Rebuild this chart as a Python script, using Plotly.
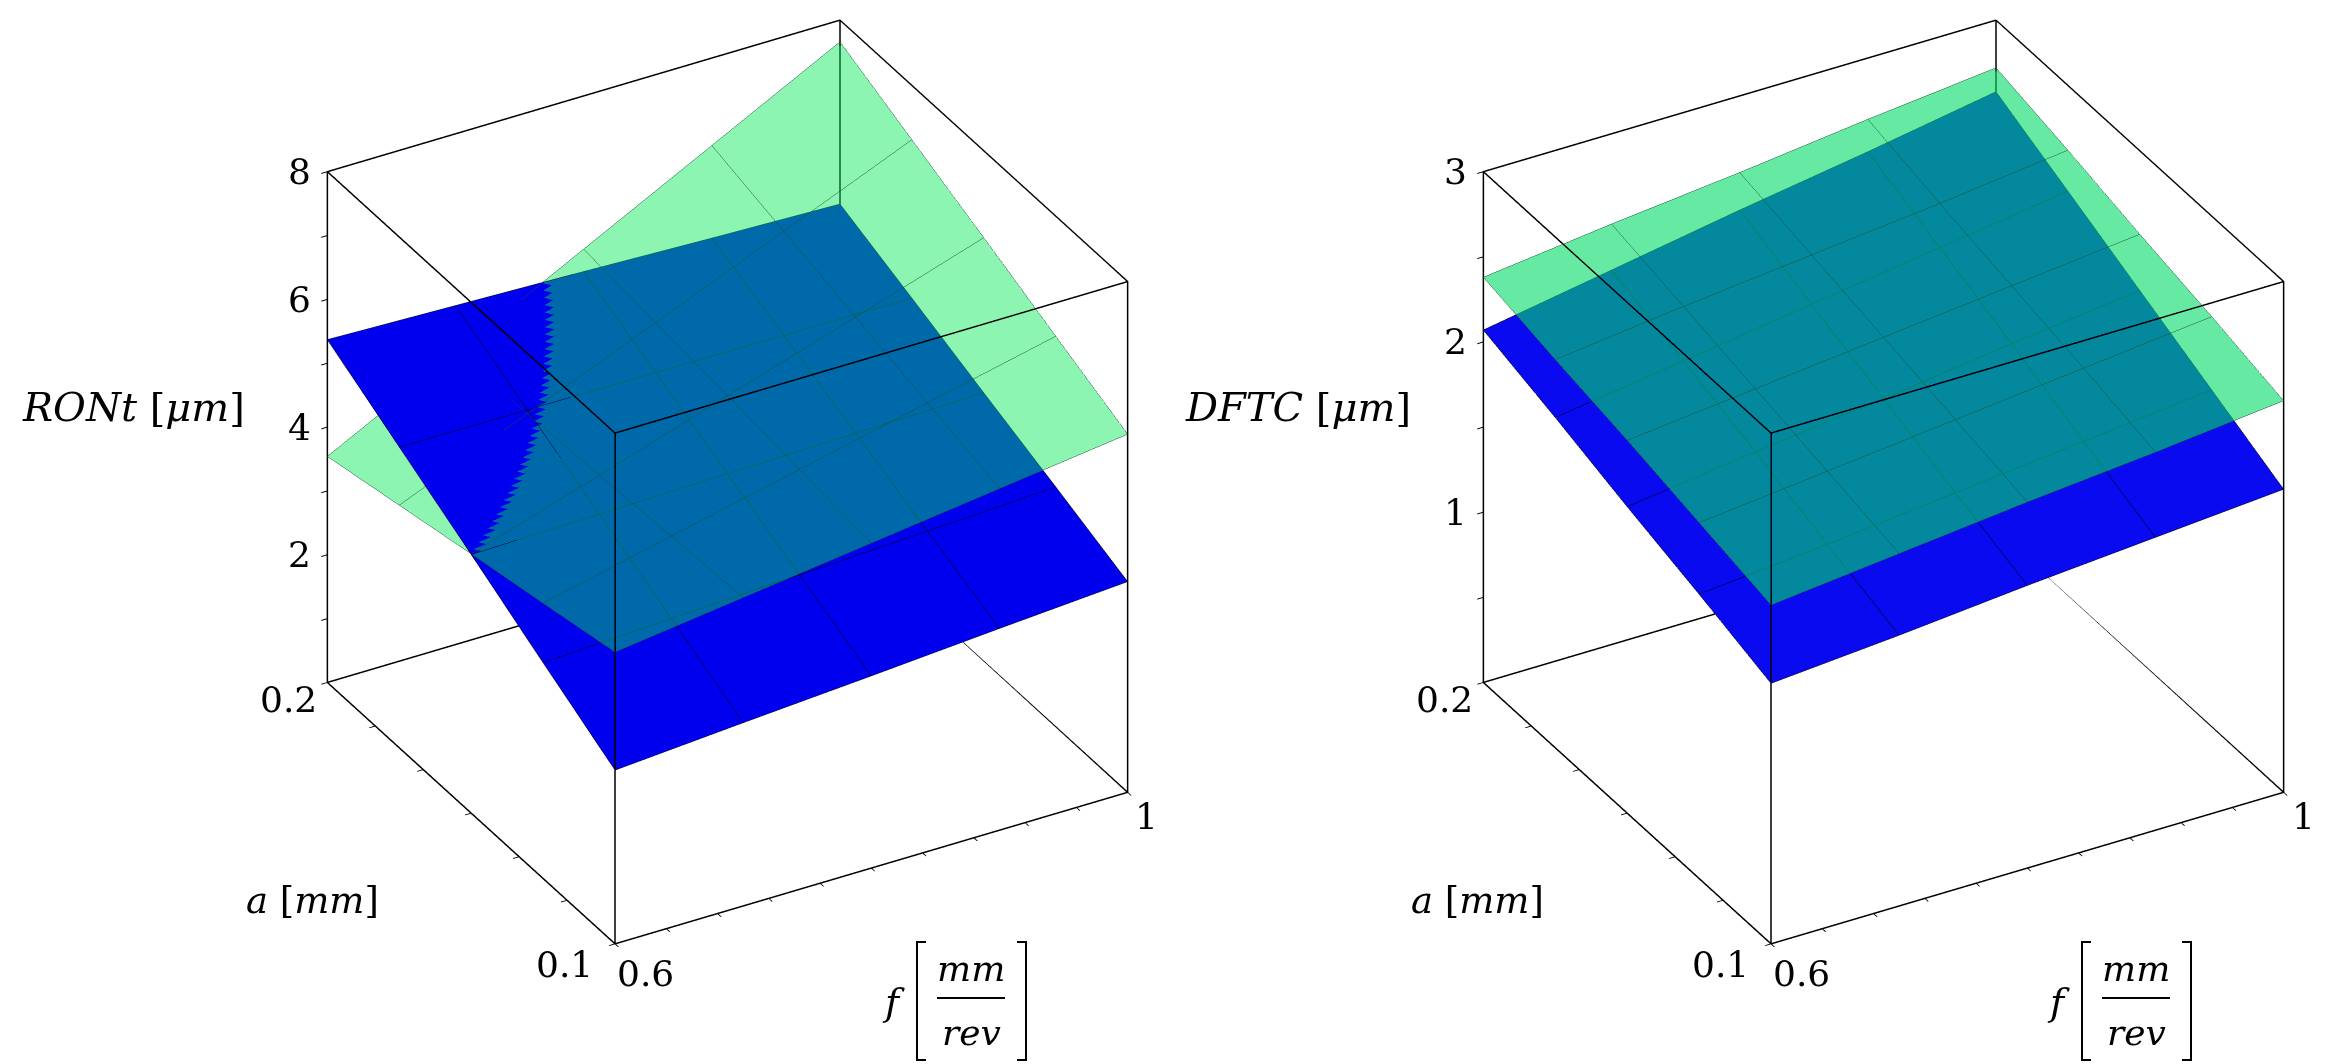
import plotly.graph_objects as go

# grid of the two response surfaces
f_vals = [0.6, 0.7, 0.8, 0.9, 1.0]
a_vals = [0.1, 0.125, 0.15, 0.175, 0.2]

# RONt [um], rows follow a_vals, columns follow f_vals
ront_blue = [
    [2.72, 2.87, 3.01, 3.16, 3.30],
    [3.38, 3.48, 3.57, 3.66, 3.76],
    [4.05, 4.09, 4.13, 4.17, 4.21],
    [4.71, 4.70, 4.69, 4.68, 4.67],
    [5.37, 5.31, 5.25, 5.18, 5.12],
]
ront_green = [
    [4.57, 4.83, 5.09, 5.35, 5.61],
    [4.31, 4.77, 5.22, 5.67, 6.12],
    [4.06, 4.70, 5.35, 5.99, 6.64],
    [3.80, 4.64, 5.47, 6.31, 7.15],
    [3.54, 4.57, 5.60, 6.63, 7.66],
]

# DFTC [um]
dftc_blue = [
    [1.53, 1.59, 1.66, 1.72, 1.78],
    [1.67, 1.74, 1.82, 1.90, 1.98],
    [1.80, 1.90, 1.99, 2.09, 2.18],
    [1.94, 2.05, 2.16, 2.27, 2.38],
    [2.07, 2.20, 2.33, 2.45, 2.58],
]
dftc_green = [
    [1.99, 2.07, 2.15, 2.22, 2.30],
    [2.09, 2.17, 2.25, 2.33, 2.41],
    [2.19, 2.27, 2.35, 2.43, 2.51],
    [2.28, 2.37, 2.45, 2.53, 2.62],
    [2.38, 2.47, 2.55, 2.64, 2.72],
]

f_range = [0.6, 1.0]
a_range = [0.1, 0.2]
ront_range = [0, 8]
dftc_range = [0, 3]

f_ticks = [0.6, 0.64, 0.68, 0.72, 0.76, 0.8, 0.84, 0.88, 0.92, 0.96, 1.0]
a_ticks = [0.1, 0.11667, 0.13333, 0.15, 0.16667, 0.18333, 0.2]
ront_ticks = [1, 2, 3, 4, 5, 6, 7, 8]
ront_labels = [2, 4, 6, 8]
dftc_ticks = [0.5, 1, 1.5, 2, 2.5, 3]
dftc_labels = [1, 2, 3]

SERIF = "DejaVu Serif"
TICK_SIZE = 36
flat = dict(ambient=1, diffuse=0, specular=0, roughness=1, fresnel=0)


def box_edges(xr, yr, zr):
    xs, ys, zs = [], [], []
    for y in yr:
        for z in zr:
            xs += [xr[0], xr[1], None]; ys += [y, y, None]; zs += [z, z, None]
    for x in xr:
        for z in zr:
            xs += [x, x, None]; ys += [yr[0], yr[1], None]; zs += [z, z, None]
    for x in xr:
        for y in yr:
            xs += [x, x, None]; ys += [y, y, None]; zs += [zr[0], zr[1], None]
    return xs, ys, zs


def surface(z, color, opacity, line_color, scene):
    return go.Surface(
        x=f_vals, y=a_vals, z=z,
        colorscale=[[0, color], [1, color]], showscale=False,
        opacity=opacity, lighting=flat, hoverinfo="skip",
        contours=dict(
            x=dict(show=True, start=0.6, end=1.0, size=0.1, color=line_color, width=2, highlight=False),
            y=dict(show=True, start=0.1, end=0.2, size=0.025, color=line_color, width=2, highlight=False),
            z=dict(highlight=False),
        ),
        scene=scene,
    )


fig = go.Figure()

fig.add_trace(surface(ront_blue, "#0000ee", 1.0, "#000010", "scene"))
fig.add_trace(surface(ront_green, "#00e954", 0.45, "#1a5230", "scene"))
bx, by, bz = box_edges(f_range, a_range, ront_range)
fig.add_trace(go.Scatter3d(x=bx, y=by, z=bz, mode="lines", line=dict(color="black", width=3),
                           hoverinfo="skip", showlegend=False, scene="scene"))

fig.add_trace(surface(dftc_blue, "#0a0af0", 1.0, "#000010", "scene2"))
fig.add_trace(surface(dftc_green, "#00dc66", 0.6, "#1a5230", "scene2"))
bx, by, bz = box_edges(f_range, a_range, dftc_range)
fig.add_trace(go.Scatter3d(x=bx, y=by, z=bz, mode="lines", line=dict(color="black", width=3),
                           hoverinfo="skip", showlegend=False, scene="scene2"))


def axis(rng, vals):
    return dict(
        range=rng, autorange=False, tickvals=vals, showticklabels=False,
        ticks="outside", ticklen=7, tickwidth=2, tickcolor="black",
        showline=True, linecolor="black", linewidth=3, mirror=True,
        showgrid=False, zeroline=False, showbackground=False,
        showspikes=False, title=dict(text=""),
    )


def tick_notes(zr, zlabels):
    tf = dict(family=SERIF, size=TICK_SIZE, color="black")
    notes = [dict(x=f_range[0], y=a_range[1], z=v, text=str(v), xanchor="right", yanchor="middle",
                  xshift=-14, showarrow=False, font=tf) for v in zlabels]
    notes += [
        dict(x=f_range[0], y=a_range[1], z=zr[0], text="0.2", xanchor="right", yanchor="top",
             xshift=-8, yshift=5, showarrow=False, font=tf),
        dict(x=f_range[0], y=a_range[0], z=zr[0], text="0.1", xanchor="right", yanchor="top",
             xshift=-20, yshift=2, showarrow=False, font=tf),
        dict(x=f_range[0], y=a_range[0], z=zr[0], text="0.6", xanchor="left", yanchor="top",
             xshift=0, yshift=-7, showarrow=False, font=tf),
        dict(x=f_range[1], y=a_range[0], z=zr[0], text="1", xanchor="left", yanchor="top",
             xshift=6, yshift=-2, showarrow=False, font=tf),
    ]
    return notes


camera = dict(eye=dict(x=-0.847, y=-1.485, z=1.036), up=dict(x=0, y=0, z=1),
              center=dict(x=0, y=0, z=0), projection=dict(type="orthographic"))
aspect = dict(x=1.245, y=1.225, z=1.26)

fig.update_layout(
    width=2334, height=1064,
    margin=dict(l=0, r=0, t=0, b=0),
    paper_bgcolor="white",
    showlegend=False,
    font=dict(family=SERIF, color="black"),
    scene=dict(
        domain=dict(x=[0.0, 0.6164], y=[0.109, 1.0]),
        xaxis=axis(f_range, f_ticks),
        yaxis=axis(a_range, a_ticks),
        zaxis=axis(ront_range, ront_ticks),
        aspectmode="manual", aspectratio=aspect, camera=camera,
        annotations=tick_notes(ront_range, ront_labels),
    ),
    scene2=dict(
        domain=dict(x=[0.6136, 0.9936], y=[0.109, 1.0]),
        xaxis=axis(f_range, f_ticks),
        yaxis=axis(a_range, a_ticks),
        zaxis=axis(dftc_range, dftc_ticks),
        aspectmode="manual", aspectratio=aspect, camera=camera,
        annotations=tick_notes(dftc_range, dftc_labels),
    ),
)

W, H = 2334.0, 1064.0


def note(text, x, y, size=38):
    fig.add_annotation(text=text, x=x / W, y=1 - y / H, xref="paper", yref="paper",
                       xanchor="center", yanchor="middle", showarrow=False,
                       font=dict(family=SERIF, size=size, color="black"))


def bracket(x, y, side, h=118, w=9):
    x0, x1 = x / W, (x + side * w) / W
    y0, y1 = 1 - (y - h / 2) / H, 1 - (y + h / 2) / H
    fig.add_shape(type="path", xref="paper", yref="paper",
                  path=f"M {x1},{y0} L {x0},{y0} L {x0},{y1} L {x1},{y1}",
                  line=dict(color="black", width=2))


for off, ztitle in [(0, "<i>RONt</i> [<i>μm</i>]"), (1165, "<i>DFTC</i> [<i>μm</i>]")]:
    note(ztitle, 125 + off, 399, size=40)
    note("<i>a</i> [<i>mm</i>]", 304 + off, 892, size=37)
    note("<i>f</i>", 885 + off, 994)
    bracket(909 + off, 993, 1)
    bracket(1018 + off, 993, -1)
    note("<i>mm</i>", 963 + off, 960, size=36)
    note("<i>rev</i>", 963 + off, 1024, size=36)
    fig.add_shape(type="line", xref="paper", yref="paper",
                  x0=(929 + off) / W, x1=(997 + off) / W,
                  y0=1 - 990 / H, y1=1 - 990 / H,
                  line=dict(color="black", width=2))

fig.write_html("out.html")
